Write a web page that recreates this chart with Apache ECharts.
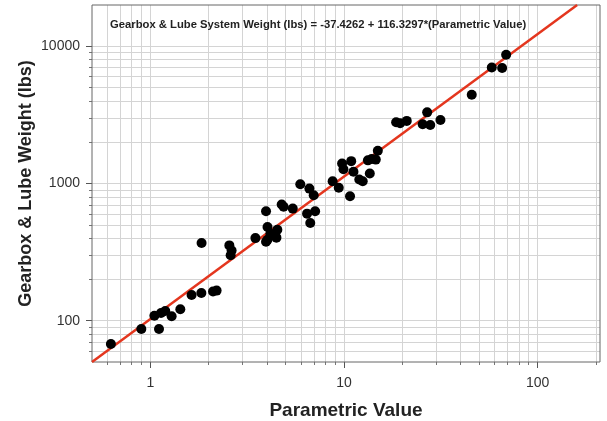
<!DOCTYPE html>
<html>
<head>
<meta charset="utf-8">
<script src="https://cdn.jsdelivr.net/npm/echarts@6/dist/echarts.min.js"></script>
<style>html,body{margin:0;padding:0;background:#fff}#c{width:607px;height:421px}</style>
</head>
<body>
<div id="c"></div>
<script>
// Parametric value (x) and Gearbox & Lube weight in lbs (y)
const paramValues = [0.626,0.899,1.109,1.05,1.136,1.195,1.289,1.429,1.634,1.835,2.108,2.2,1.84,2.56,2.63,2.6,3.49,3.96,4.03,4.53,4.17,4.37,4.03,4.48,3.96,4.77,4.88,5.44,5.95,6.63,6.98,6.45,7.1,6.7,8.74,9.4,9.78,9.94,10.9,11.2,10.75,12.0,12.5,13.3,13.6,14.6,14.96,13.9,18.6,19.5,21.1,25.5,27.9,26.9,31.5,45.7,58,65.6,68.8];
const weights = [67.7,86.9,87,108.8,113.8,117.8,107.7,121.2,154,159,163,165.7,368,354,325,300,400,627,482,460,431,417,389,403,376,702,676,656,988,918,820,603,627,516,1040,930,1400,1272,1455,1218,807,1069,1040,1475,1183,1493,1734,1510,2794,2750,2860,2702,2670,3300,2905,4429,7010,6940,8682];
// Fitted line endpoints
const fitX = [0.5, 160];
const fitY = [50, 20000];
// Tick labels
const xMajorTicks = [1, 10, 100];
const yMajorTicks = [100, 1000, 10000];
const xMinorTicks = [0.6,0.7,0.8,0.9,2,3,4,5,6,7,8,9,20,30,40,50,60,70,80,90,200];
const yMinorTicks = [60,70,80,90,200,300,400,500,600,700,800,900,2000,3000,4000,5000,6000,7000,8000,9000];
const titleText = 'Gearbox & Lube System Weight (lbs) = -37.4262 + 116.3297*(Parametric Value)';
const xName = 'Parametric Value';
const yName = 'Gearbox & Lube Weight (lbs)';

const FONT = '"Liberation Sans", Arial, sans-serif';
const GRID = '#d4d4d4';
const chart = echarts.init(document.getElementById('c'), null, {renderer: 'canvas'});
const points = paramValues.map((v, i) => [v, weights[i]]);
const fit = fitX.map((v, i) => [v, fitY[i]]);
const gridMarks = xMinorTicks.map(v => ({xAxis: v})).concat(yMinorTicks.map(v => ({yAxis: v})));
const plain = v => String(Math.round(v));

function xAx(extra) {
  return Object.assign({
    type: 'log', logBase: 10, min: 0.5, max: 210, gridIndex: 0,
    axisLine: {show: false},
    splitLine: {show: false},
  }, extra);
}
function yAx(extra) {
  return Object.assign({
    type: 'log', logBase: 10, min: 50, max: 20000, gridIndex: 0,
    axisLine: {show: false},
    splitLine: {show: false},
  }, extra);
}

chart.setOption({
  animation: false,
  backgroundColor: '#fff',
  title: {
    text: titleText, left: 110, top: 19, padding: 0,
    textStyle: {fontFamily: FONT, fontSize: 11.25, fontWeight: 'bold', color: '#222'}
  },
  grid: {left: 92, top: 5, right: 7, bottom: 59, show: true, borderColor: '#666', borderWidth: 1,
         backgroundColor: 'transparent', z: 2, containLabel: false, outerBoundsMode: 'none'},
  xAxis: [
    xAx({
      position: 'bottom',
      name: xName, nameLocation: 'middle', nameGap: 39, nameMoveOverlap: false,
      nameTextStyle: {fontFamily: FONT, fontSize: 19, fontWeight: 'bold', color: '#222'},
      axisTick: {show: true, length: 6, lineStyle: {color: '#555'}, customValues: xMajorTicks},
      axisLabel: {show: true, margin: 14, fontFamily: FONT, fontSize: 14, color: '#333', customValues: xMajorTicks, formatter: plain},
      splitLine: {show: true, lineStyle: {color: GRID, width: 1}}
    }),
    xAx({
      position: 'bottom',
      axisTick: {show: true, length: 3, lineStyle: {color: '#777'}, customValues: xMinorTicks},
      axisLabel: {show: false}
    })
  ],
  yAxis: [
    yAx({
      position: 'left',
      name: yName, nameLocation: 'middle', nameGap: 57, nameMoveOverlap: false,
      nameTextStyle: {fontFamily: FONT, fontSize: 18, fontWeight: 'bold', color: '#222'},
      axisTick: {show: true, length: 6, lineStyle: {color: '#555'}, customValues: yMajorTicks},
      axisLabel: {show: true, margin: 12, fontFamily: FONT, fontSize: 14, color: '#333', customValues: yMajorTicks, formatter: plain},
      splitLine: {show: true, lineStyle: {color: GRID, width: 1}}
    }),
    yAx({
      position: 'left',
      axisTick: {show: true, length: 3, lineStyle: {color: '#777'}, customValues: yMinorTicks},
      axisLabel: {show: false}
    })
  ],
  series: [
    {
      type: 'line', xAxisIndex: 0, yAxisIndex: 0, data: [], z: 1, silent: true,
      markLine: {
        z: 1, zlevel: 0,
        silent: true, symbol: ['none', 'none'], animation: false,
        label: {show: false},
        lineStyle: {color: GRID, width: 1, type: 'solid'},
        emphasis: {disabled: true},
        data: gridMarks
      }
    },
    {
      type: 'line', xAxisIndex: 0, yAxisIndex: 0, data: fit, z: 3,
      showSymbol: false, symbol: 'none', clip: true,
      lineStyle: {color: '#e4361e', width: 2.5}
    },
    {
      type: 'scatter', xAxisIndex: 0, yAxisIndex: 0, data: points, z: 4,
      symbol: 'circle', symbolSize: 10,
      itemStyle: {color: '#000', opacity: 1}
    }
  ]
});
</script>
</body>
</html>
